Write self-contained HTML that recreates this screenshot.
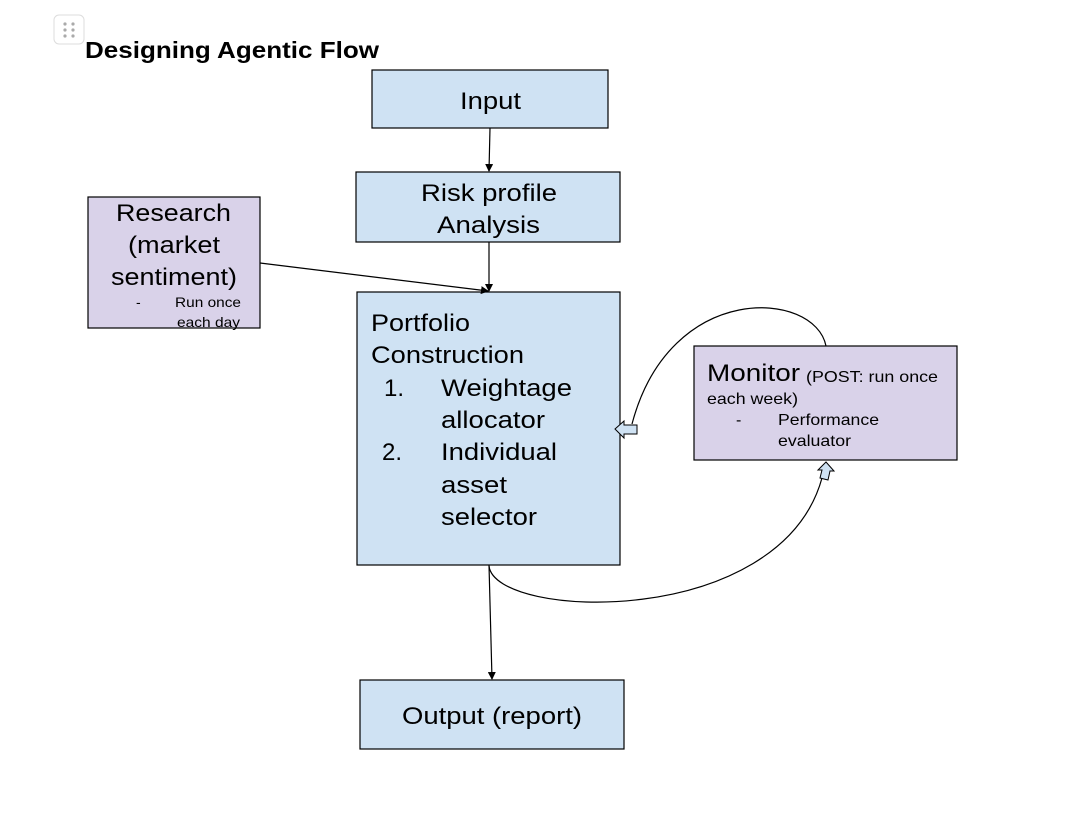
<!DOCTYPE html>
<html><head><meta charset="utf-8"><style>
body{margin:0;background:#fff;}
svg{display:block;font-family:"Liberation Sans",Arial,sans-serif;}
</style></head><body>
<svg width="1081" height="827" viewBox="0 0 1081 827">
<defs><marker id="a" markerWidth="8" markerHeight="8" refX="7" refY="4" orient="auto" markerUnits="userSpaceOnUse"><path d="M0,0 L8,4 L0,8 z" fill="#000"/></marker></defs>
<rect x="54" y="15" width="30" height="29" rx="5" fill="#fff" stroke="#ddd"/>
<g fill="#aaa"><circle cx="65" cy="24" r="1.6"/><circle cx="73" cy="24" r="1.6"/><circle cx="65" cy="30" r="1.6"/><circle cx="73" cy="30" r="1.6"/><circle cx="65" cy="36" r="1.6"/><circle cx="73" cy="36" r="1.6"/></g>
<text x="85" y="58" font-size="23" font-weight="bold" textLength="294" lengthAdjust="spacingAndGlyphs">Designing Agentic Flow</text>
<g stroke="#000" stroke-width="1.2">
<rect x="372" y="70" width="236" height="58" fill="#cfe2f3"/>
<rect x="356" y="172" width="264" height="70" fill="#cfe2f3"/>
<rect x="88" y="197" width="172" height="131" fill="#d9d2e9"/>
<rect x="357" y="292" width="263" height="273" fill="#cfe2f3"/>
<rect x="694" y="346" width="263" height="114" fill="#d9d2e9"/>
<rect x="360" y="680" width="264" height="69" fill="#cfe2f3"/>
</g>
<g stroke="#000" stroke-width="1.2" fill="none">
<line x1="490" y1="128" x2="489" y2="171" marker-end="url(#a)"/>
<line x1="489" y1="242" x2="489" y2="291" marker-end="url(#a)"/>
<line x1="260" y1="263" x2="488" y2="291" marker-end="url(#a)"/>
<line x1="489" y1="565" x2="492" y2="679" marker-end="url(#a)"/>
<path d="M489,566 C495,620 780,630 822,478"/>
<path d="M826,346 C815,290 670,280 632,424"/>
</g>
<path d="M615,429 L624,421 L624,425 L637,425 L637,434 L624,434 L624,438 Z" fill="#cfe2f3" stroke="#000" stroke-width="1"/>
<path d="M826,462 L834,471 L830,471 L828,480 L820,478 L822,470 L818,470 Z" fill="#cfe2f3" stroke="#000" stroke-width="1"/>
<g font-size="24" fill="#000" lengthAdjust="spacingAndGlyphs">
<text x="460" y="109" textLength="61" lengthAdjust="spacingAndGlyphs">Input</text>
<text x="421" y="201" textLength="136" lengthAdjust="spacingAndGlyphs">Risk profile</text>
<text x="437" y="233" textLength="103" lengthAdjust="spacingAndGlyphs">Analysis</text>
<text x="116" y="221" textLength="115" lengthAdjust="spacingAndGlyphs">Research</text>
<text x="128" y="253" textLength="92" lengthAdjust="spacingAndGlyphs">(market</text>
<text x="111" y="285" textLength="126" lengthAdjust="spacingAndGlyphs">sentiment)</text>
<text x="371" y="331" textLength="99" lengthAdjust="spacingAndGlyphs">Portfolio</text>
<text x="371" y="363" textLength="153" lengthAdjust="spacingAndGlyphs">Construction</text>
<text x="384" y="396">1.</text><text x="441" y="396" textLength="131" lengthAdjust="spacingAndGlyphs">Weightage</text>
<text x="441" y="428" textLength="104" lengthAdjust="spacingAndGlyphs">allocator</text>
<text x="382" y="460">2.</text><text x="441" y="460" textLength="116" lengthAdjust="spacingAndGlyphs">Individual</text>
<text x="441" y="493" textLength="66" lengthAdjust="spacingAndGlyphs">asset</text>
<text x="441" y="525" textLength="96" lengthAdjust="spacingAndGlyphs">selector</text>
<text x="707" y="381" textLength="93" lengthAdjust="spacingAndGlyphs">Monitor</text>
<text x="402" y="724" textLength="180" lengthAdjust="spacingAndGlyphs">Output (report)</text>
</g>
<g font-size="14">
<text x="136" y="307">-</text><text x="175" y="307" textLength="66" lengthAdjust="spacingAndGlyphs">Run once</text>
<text x="177" y="327" textLength="63" lengthAdjust="spacingAndGlyphs">each day</text>
</g>
<g font-size="16">
<text x="806" y="382" textLength="132" lengthAdjust="spacingAndGlyphs">(POST: run once</text>
<text x="707" y="404" textLength="91" lengthAdjust="spacingAndGlyphs">each week)</text>
<text x="736" y="425">-</text><text x="778" y="425" textLength="101" lengthAdjust="spacingAndGlyphs">Performance</text>
<text x="778" y="446" textLength="73" lengthAdjust="spacingAndGlyphs">evaluator</text>
</g>
</svg>
</body></html>
